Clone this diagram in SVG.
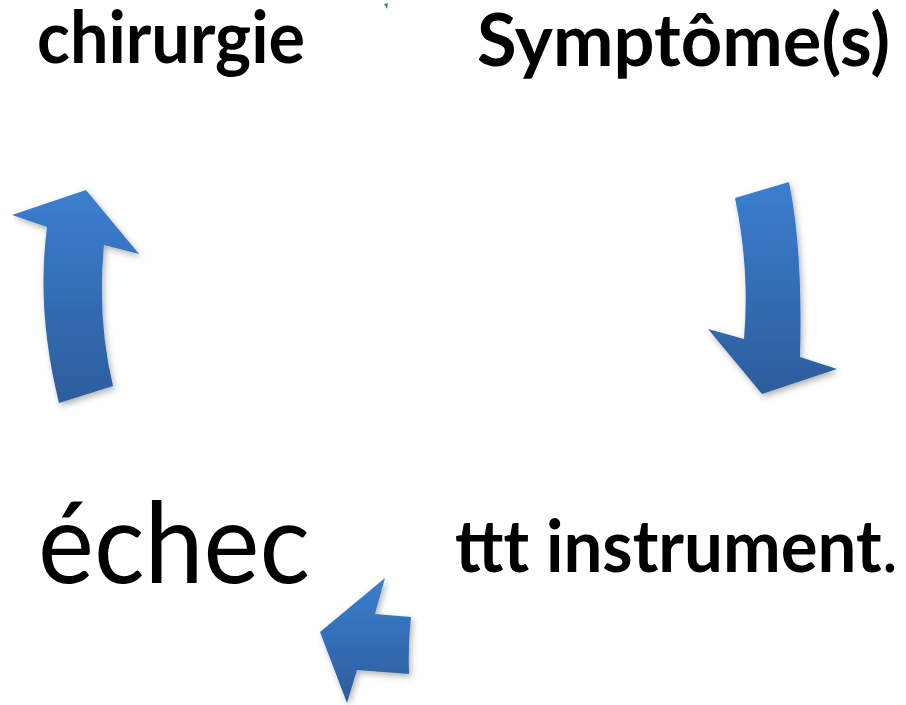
<svg xmlns="http://www.w3.org/2000/svg" width="906" height="705" viewBox="0 0 906 705">
<defs>
<style>
.b{font-family:Lato,"Open Sans","Liberation Sans",sans-serif;font-weight:bold;fill:#000}
.r{font-family:Lato,"Open Sans","Liberation Sans",sans-serif;font-weight:normal;fill:#000}
.arrow{stroke:none}
</style>
<linearGradient id="gv" x1="0" y1="0" x2="0" y2="1">
<stop offset="0" stop-color="#3b7ed0"/>
<stop offset="1" stop-color="#2c5d9b"/>
</linearGradient>
<filter id="sh" x="-20%" y="-20%" width="150%" height="150%">
<feDropShadow dx="2" dy="3" stdDeviation="3" flood-color="#000" flood-opacity="0.3"/>
</filter>
</defs>
<rect width="906" height="705" fill="#fff"/>
<g id="connectors">
<path class="arrow" fill="url(#gv)" filter="url(#sh)" d="M735,198 L789,182 Q803,250 800,357 L837,369 L762,394 L708,329 L744,339 Q750,270 735,198 Z"/>
<path class="arrow" fill="url(#gv)" filter="url(#sh)" d="M86,190 L139,254 L104,245 Q97,320 113,386 L59,403 Q36,310 47,227 L12,215 Z"/>
<path class="arrow" fill="url(#gv)" filter="url(#sh)" d="M385,578 L375,614 L411,617 Q408,645 409,674 L357,670 L347,703 L320,632 Z"/>
<path class="arrow" fill="#3b7ed0" d="M384,4 L388,3 L387,9 Z"/>
</g>
<g id="node-chirurgie"><text class="b" x="37" y="63" font-size="72" textLength="268" lengthAdjust="spacingAndGlyphs">chirurgie</text></g>
<g id="node-symptomes"><text class="b" x="477" y="66" font-size="72" textLength="413" lengthAdjust="spacingAndGlyphs">Symptôme(s)</text></g>
<g id="node-echec"><text class="r" x="38" y="583" font-size="112" textLength="272" lengthAdjust="spacingAndGlyphs">échec</text></g>
<g id="node-ttt"><text class="b" x="455" y="572" font-size="72" textLength="443" lengthAdjust="spacingAndGlyphs">ttt instrument<tspan class="r">.</tspan></text></g>
</svg>
